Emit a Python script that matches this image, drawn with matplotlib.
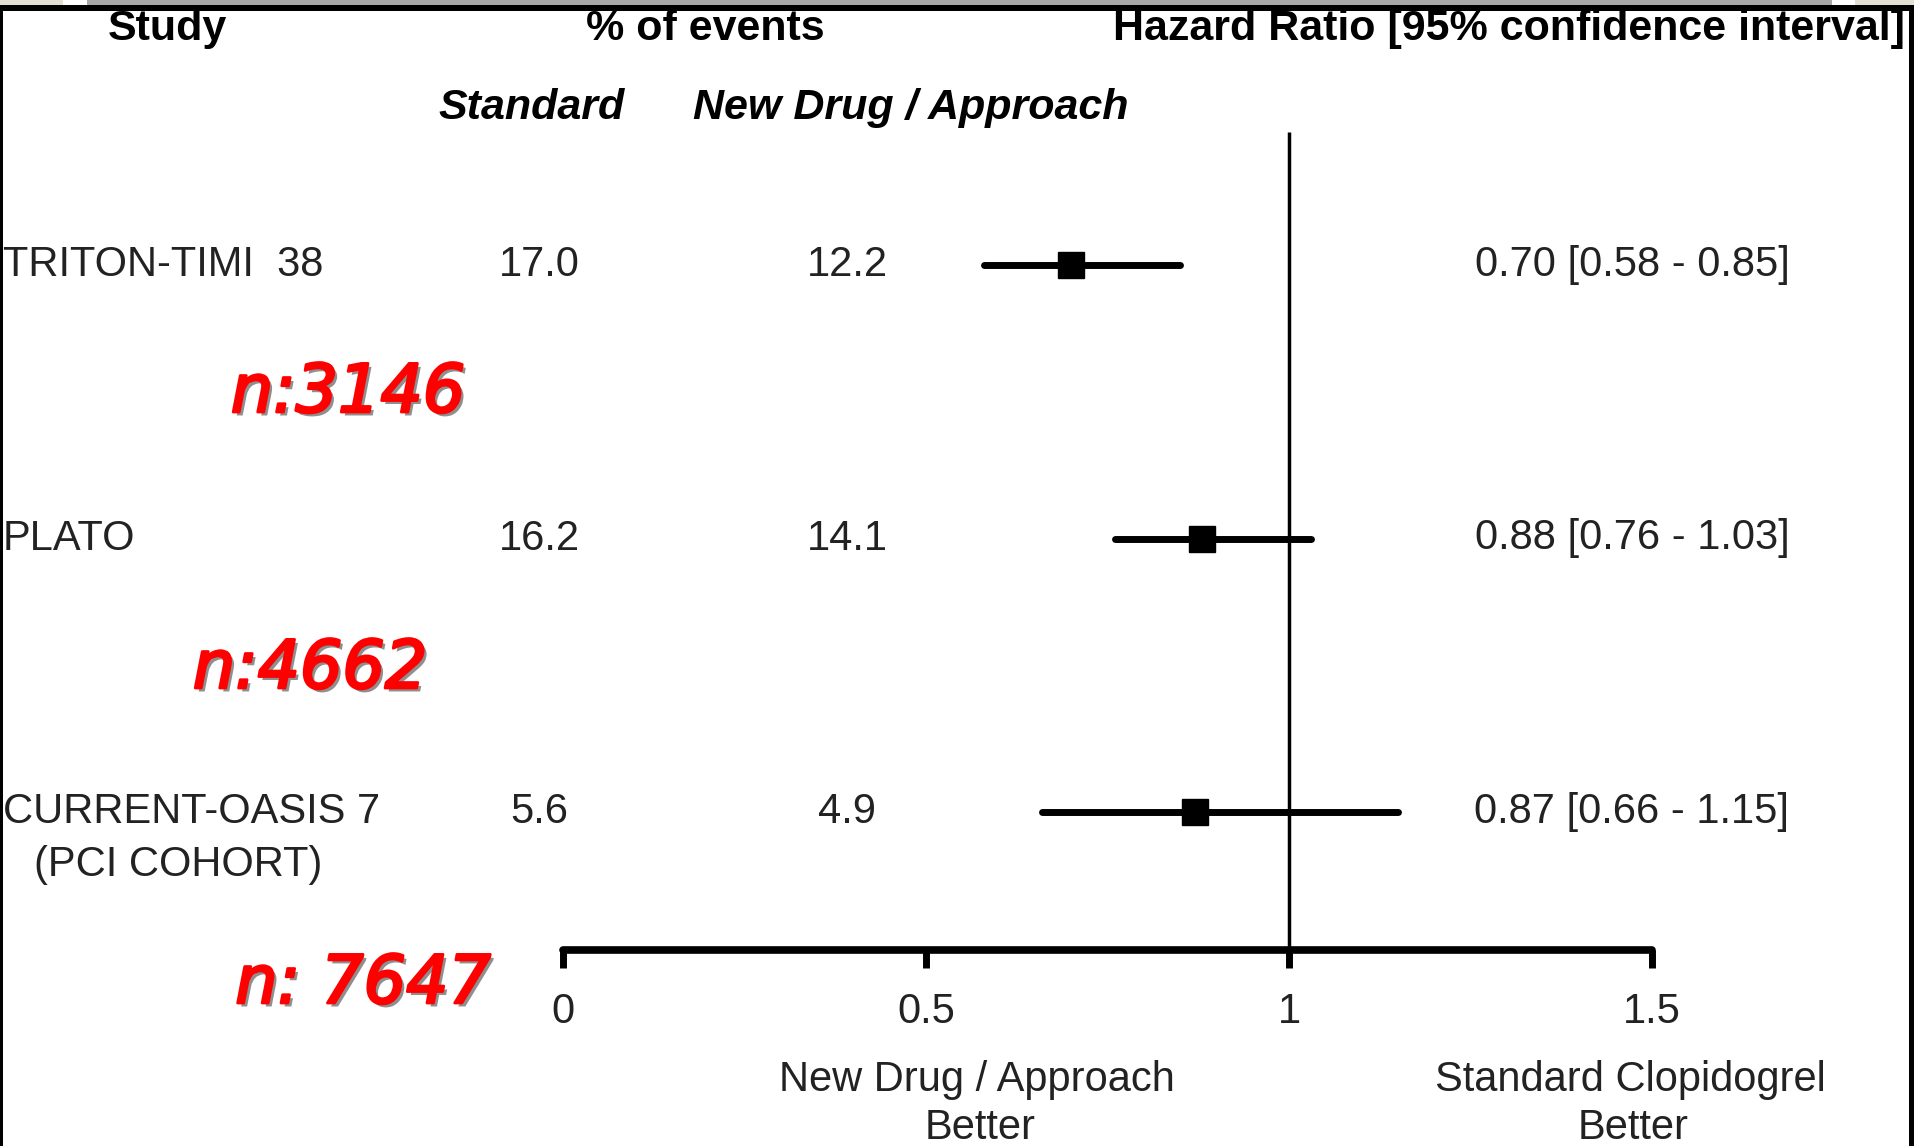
import numpy as np
import matplotlib.pyplot as plt
from matplotlib import patheffects
from matplotlib.patches import Rectangle

# data
studies = ['TRITON-TIMI  38', 'PLATO', 'CURRENT-OASIS 7']
study_notes = ['', '', '(PCI COHORT)']
pct_standard = ['17.0', '16.2', '5.6']
pct_new = ['12.2', '14.1', '4.9']
hr = [0.70, 0.88, 0.87]
ci_low = [0.58, 0.76, 0.66]
ci_high = [0.85, 1.03, 1.15]
n_patients = ['n:3146', 'n:4662', 'n: 7647']
xticks = [0, 0.5, 1, 1.5]
xtick_labels = ['0', '0.5', '1', '1.5']
side_labels = ['New Drug / Approach', 'Standard Clopidogrel']

W, H = 1915, 1146
X0, XSCALE = 563, 726     # pixel of HR=0, pixels per HR unit
Y0, YSTEP = 265, 273.5    # pixel of first row, pixels per row


def hx(px):
    return (px - X0) / XSCALE


def ry(py):
    return (py - Y0) / YSTEP


plt.rcParams['font.family'] = ['Liberation Sans', 'DejaVu Sans']
fig = plt.figure(figsize=(W / 100, H / 100), dpi=100)
ax = fig.add_axes([0, 0, 1, 1])
ax.set_xlim(hx(0), hx(W))
ax.set_ylim(ry(H), ry(0))
rows = np.arange(len(studies))

# frame bits around the slide
def rect(x, y, w, h, c):
    fig.add_artist(Rectangle((x / W, 1 - (y + h) / H), w / W, h / H,
                             transform=fig.transFigure, color=c, lw=0, zorder=10))


rect(0, 0, W, 5, '#a8a8a8')
rect(0, 0, 63, 5, '#e4dfd3')
rect(63, 0, 24, 5, 'white')
rect(1832, 0, 23, 5, 'white')
rect(1855, 0, 60, 5, '#e4dfd3')
rect(0, 5, W, 6, 'black')
rect(0, 5, 3, H, 'black')
rect(1909, 5, 6, H, 'black')

# axis
for s in ['top', 'left', 'right']:
    ax.spines[s].set_visible(False)
ax.spines['bottom'].set_position(('data', ry(950)))
ax.spines['bottom'].set_bounds(0, 1.5)
ax.spines['bottom'].set_linewidth(5.5)
ax.spines['bottom'].set_capstyle('round')
ax.set_yticks([])
ax.set_xticks(xticks, xtick_labels)
ax.tick_params(axis='x', direction='out', length=13, width=5, pad=17,
               labelsize=30, labelcolor='#222222')
ax.vlines(1, ry(132), ry(950), color='black', lw=2.5)

# CIs and point estimates
ci = ax.hlines(rows, ci_low, ci_high, color='black', lw=5)
ci.set_capstyle('round')
ax.plot(hr, rows, 's', ms=19, color='black')

# headers
hdr = dict(fontsize=31, fontweight='bold', color='black', va='center')
ax.text(hx(167), ry(29), 'Study', ha='center', **hdr)
ax.text(hx(705), ry(29), '% of events', ha='center', **hdr)
ax.text(hx(1905), ry(29), 'Hazard Ratio [95% confidence interval]', ha='right', **hdr)
ax.text(hx(532), ry(108), 'Standard', ha='center', style='italic', **hdr)
ax.text(hx(911), ry(108), 'New Drug / Approach', ha='center', style='italic', **hdr)

body = dict(fontsize=30, color='#222222', va='center')
for i in rows:
    ax.text(hx(3), i, studies[i], ha='left', **body)
    if study_notes[i]:
        ax.text(hx(34), i + ry(865) - ry(812), study_notes[i], ha='left', **body)
    ax.text(hx(539), i, pct_standard[i], ha='center', **body)
    ax.text(hx(847), i, pct_new[i], ha='center', **body)
    ax.text(hx(1632), i, f'{hr[i]:.2f} [{ci_low[i]:.2f} - {ci_high[i]:.2f}]',
            ha='center', **body)

for lbl, px in zip(side_labels, [977, 1630]):
    ax.text(hx(px), ry(1080), lbl, ha='center', **body)
    ax.text(hx(px + 3), ry(1128), 'Better', ha='center', **body)

# red sample sizes
n_pos = [(348, 393), (310, 669), (363, 984)]
n_fx = [patheffects.SimplePatchShadow(offset=(2.5, -2.5), shadow_rgbFace='#202020', alpha=0.5),
        patheffects.withStroke(linewidth=2.0, foreground='#ff0000')]
for lbl, (px, py) in zip(n_patients, n_pos):
    ax.text(hx(px), ry(py), lbl, ha='center', va='center', fontsize=48,
            family='DejaVu Sans', style='italic',
            color='#ff0000', path_effects=n_fx)

fig.savefig('out.png', dpi=100)
